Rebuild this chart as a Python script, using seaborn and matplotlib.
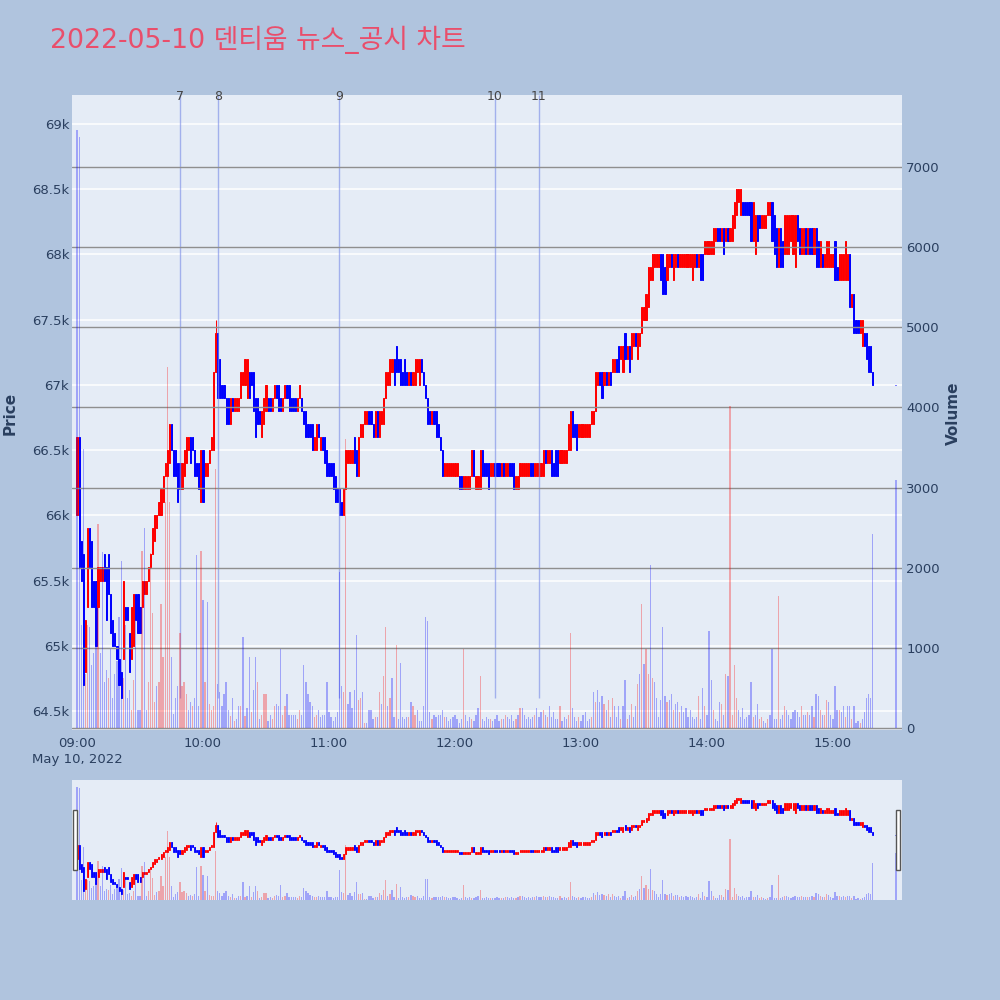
import numpy as np
import pandas as pd
import matplotlib
matplotlib.use("Agg")
import matplotlib.pyplot as plt
import matplotlib.dates as mdates
from matplotlib.patches import Rectangle
import seaborn as sns

# 1분봉 시가 / 종가 (단위: 100원), 09:00 ~ 15:19 구간별
open_a = [660,666,658,657,648,653,659,658,655,655,653,655,655,657,656,657,654,652,651,650,
          649,648,649,653,653,651,649,650,654,654,653,653,654,654,655,656,657,658,659,660,
          660,661,663,663,664,667,665,665,664,664,662,663,664,665,666,666,665,664,664,661,
          665,663]
close_a = [666,656,655,647,652,659,656,653,653,650,656,656,656,655,652,654,651,650,650,649,
           647,646,655,652,652,648,653,654,652,651,651,655,655,655,656,657,659,660,660,661,
           662,663,664,665,667,665,663,663,661,662,664,665,666,666,664,665,663,663,662,665,
           661,664]
open_b = [663,664,665,665,671,674,672,670,670,669,669,667,669,668,668,668,669,670,670,669,
          671,671,671,669,669,668,666,667,668,669,669,668,669,670,670,669,668,669,670,670,
          669,669,669,668,669,669,668,668,667,667,667,665,665,667,665,666,666,665,664,664,
          664,663,662,662]
close_b = [664,665,666,671,674,669,669,669,669,667,667,669,668,669,669,669,671,671,672,672,
           669,670,668,666,667,667,668,669,670,668,668,669,670,669,668,668,669,670,669,668,
           668,668,668,669,670,668,667,666,666,666,665,666,667,666,666,665,664,663,663,663,
           662,661,661,660]
open_c = [661,660,662,664,664,664,666,665,663,666,666,667,667,668,668,667,666,668,666,667,
          667,669,670,670,671,672,673,672,672,671,672,671,670,671,670,670,671,670,672,671,
          670,669,668,667,668,668,667,666,665,663,663,663,663,663,663,663,663,663,662,662,
          662,662,663,665]
close_c = [660,662,665,665,665,665,664,663,666,667,667,668,668,667,667,666,668,666,668,668,
           669,671,671,672,672,670,671,671,670,670,670,670,671,670,671,672,672,672,671,670,
           669,667,667,668,667,666,666,665,663,664,664,664,664,664,664,664,662,662,663,663,
           663,663,665,663]
open_d = [662,662,662,665,664,664,664,663,663,664,664,664,663,664,663,663,664,664,664,662,
          662,663,663,663,663,663,664,664,663,663,663,663,663,665,664,664,665,664,665,665,
          664,664,664,664,665,665,668,667,667,666,666,666,666,666,666,667,667,668,670,671,
          671,670,671,670]
close_d = [663,663,665,663,663,663,662,664,664,663,663,663,664,663,664,664,663,663,662,663,
           663,664,664,664,664,664,663,663,664,664,664,664,665,664,665,665,663,663,663,663,
           665,665,665,665,667,668,666,666,665,667,667,667,667,667,667,668,668,671,671,670,
           669,671,670,671]
open_e = [671,671,671,672,673,672,671,674,672,673,672,673,674,672,673,674,675,675,676,678,
          678,679,679,679,680,680,679,678,679,680,678,679,680,679,679,679,679,679,679,678,
          679,680,679,680,680,680,680,680,680,680,681,682,682,681,682,681,682,681,681,682,
          683,684,683,684]
close_e = [670,672,672,671,671,673,673,672,673,671,674,674,673,674,674,676,676,677,679,679,
           680,680,680,680,678,677,677,680,680,679,680,680,679,680,680,680,680,680,680,680,
           680,679,680,678,678,681,681,681,681,682,682,681,681,682,680,682,681,682,683,684,
           685,685,685,683]
open_f = [684,684,684,684,681,680,683,683,682,682,682,683,683,684,683,682,679,682,681,680,
          680,680,681,680,679,683,682,680,680,682,680,682,682,680,682,681,679,680,679,679,
          679,679,679,681,679,678,678,678,678,678,680,676,677,675,675,674,673,674,674,673,
          673,671]
close_f = [683,683,683,681,684,683,681,682,683,683,683,684,684,681,680,679,682,679,679,683,
           683,683,683,683,683,681,680,682,682,680,682,680,680,682,679,679,681,679,680,681,
           681,680,680,678,678,680,680,680,681,680,676,677,674,674,674,675,675,673,672,671,
           671,670]
# 15:30 동시호가
open_close_auction = 670
close_close_auction = 670

# 거래량
vol_a = [7460,7370,1290,3480,680,1290,1260,780,930,1090,2540,930,2200,580,730,630,985,370,680,830,
         1390,2080,630,1290,370,470,220,600,1340,220,220,2210,2490,220,580,2180,1440,320,525,580,
         1550,880,2820,4500,2820,880,170,370,525,1190,525,580,420,220,320,270,370,2160,270,2210,
         1600,580]
vol_b = [1570,300,220,270,3230,550,450,270,425,580,220,150,370,90,117,270,270,1140,150,245,
         880,194,475,880,580,117,168,420,420,92,168,117,270,296,270,985,168,270,420,168,
         168,168,168,117,219,168,780,575,423,321,270,143,168,219,143,168,168,580,194,143,
         92,143,194,1950]
vol_c = [525,449,3610,296,449,245,474,1160,347,372,449,66,66,219,219,117,143,143,449,296,
         653,1265,270,372,630,143,1040,117,805,143,117,143,143,321,270,168,219,92,92,270,
         1390,1340,194,117,168,143,168,168,219,143,143,92,117,143,168,117,66,117,985,168,
         92,143,117,92]
vol_d = [168,245,653,117,92,143,117,117,92,117,168,92,117,117,168,143,117,168,92,117,
         168,245,245,168,117,143,117,143,168,245,143,194,219,168,143,270,143,194,117,117,
         270,92,143,117,168,1190,245,143,92,143,92,168,194,92,117,143,449,321,474,321,
         398,296,219,347]
vol_e = [143,372,270,143,270,117,270,602,117,168,296,143,270,550,680,1550,800,985,679,2030,
         628,577,372,143,347,1265,398,321,347,423,219,296,321,194,270,194,245,143,219,143,
         117,143,398,117,500,270,168,1215,602,219,117,92,321,296,168,679,653,4020,168,780,
         372,219,143,245]
vol_f = [117,143,168,577,143,168,296,117,143,92,66,117,168,985,117,117,1650,117,168,270,
         219,168,117,194,219,194,143,270,168,168,194,168,270,143,425,398,219,168,168,347,
         321,168,117,525,219,219,194,270,143,270,270,117,270,66,92,66,117,194,372,423,
         372,2415]
vol_close_auction = 3100

high_wicks = {66: 675}

# 뉴스/공시 시점
news_times = ["09:49", "10:07", "11:05", "12:19", "12:40"]
news_labels = ["7", "8", "9", "10", "11"]

price_ticks = [64500, 65000, 65500, 66000, 66500, 67000, 67500, 68000, 68500, 69000]
volume_ticks = [0, 1000, 2000, 3000, 4000, 5000, 6000, 7000]

# ---- 데이터 프레임 ----
opens = open_a + open_b + open_c + open_d + open_e + open_f + [open_close_auction]
closes = close_a + close_b + close_c + close_d + close_e + close_f + [close_close_auction]
volumes = vol_a + vol_b + vol_c + vol_d + vol_e + vol_f + [vol_close_auction]
times = pd.date_range("2022-05-10 09:00", periods=380, freq="min").append(
    pd.DatetimeIndex(["2022-05-10 15:30"]))

df = pd.DataFrame({"time": times, "open": np.array(opens) * 100,
                   "close": np.array(closes) * 100, "volume": volumes})
df["high"] = df[["open", "close"]].max(axis=1)
df["low"] = df[["open", "close"]].min(axis=1)
for k, v in high_wicks.items():
    df.loc[k, "high"] = v * 100
df["x"] = mdates.date2num(df["time"])
df["up"] = df["close"] > df["open"]
df["vol_up"] = df["close"].diff().fillna(-1) > 0

RED, BLUE = "#ff0000", "#0000ff"
BG, PAPER = "#e5ecf6", "#b0c4de"
TXT = "#2a3f5f"

sns.set_theme(style="white")
plt.rcParams["font.family"] = ["DejaVu Sans", "Noto Sans CJK KR"]

fig = plt.figure(figsize=(10, 10), dpi=100, facecolor=PAPER)
ax = fig.add_axes([0.072, 0.270, 0.830, 0.635])
axs = fig.add_axes([0.072, 0.100, 0.830, 0.120])

day0 = mdates.date2num(pd.Timestamp("2022-05-10 09:00"))
minute = 1 / 1440
xlim = (day0 - 2.4 * minute, day0 + 392.9 * minute)
ylim_p = (64354, 69222)
ylim_v = (-25, 7900)


def draw(a, lw, body_w, vol_w):
    a.set_facecolor(BG)
    av = a.twinx()
    av.patch.set_visible(False)
    cols = np.where(df["up"], RED, BLUE)
    a.vlines(df["x"], df["low"], df["high"], colors=cols, lw=lw, zorder=3)
    a.bar(df["x"], (df["close"] - df["open"]).abs(),
          bottom=df[["open", "close"]].min(axis=1), width=body_w * minute,
          color=cols, edgecolor=cols, linewidth=lw, zorder=3)
    vcols = np.where(df["vol_up"], RED, BLUE)
    av.bar(df["x"], df["volume"], width=vol_w * minute, color=vcols, alpha=0.3,
           linewidth=0, zorder=2)
    a.set_xlim(*xlim)
    av.set_xlim(*xlim)
    a.set_ylim(*ylim_p)
    av.set_ylim(*ylim_v)
    for s in list(a.spines.values()) + list(av.spines.values()):
        s.set_visible(False)
    return av


axv = draw(ax, 0.7, 0.55, 0.6)

# 격자
ax.set_axisbelow(True)
ax.set_yticks(price_ticks)
ax.set_yticklabels([f"{p / 1000:g}k" for p in price_ticks])
ax.grid(axis="y", color="white", lw=1.1)
ax.grid(axis="x", visible=False)
axv.set_yticks(volume_ticks)
axv.set_yticklabels([str(v) for v in volume_ticks])
axv.grid(axis="y", color="#8f8f8f", lw=1.0)
axv.grid(axis="x", visible=False)

hours = pd.date_range("2022-05-10 09:00", "2022-05-10 15:00", freq="h")
ax.set_xticks(mdates.date2num(hours))
ax.set_xticklabels([h.strftime("%H:%M") + ("\nMay 10, 2022" if i == 0 else "")
                    for i, h in enumerate(hours)], linespacing=1.3)
ax.tick_params(axis="both", length=0, labelsize=9.5, labelcolor=TXT)
ax.tick_params(axis="y", pad=2)
ax.tick_params(axis="x", pad=5)
axv.tick_params(axis="y", length=0, labelsize=9.5, labelcolor=TXT, pad=3)

# 뉴스 라인
for t, lab in zip(news_times, news_labels):
    xt = mdates.date2num(pd.Timestamp(f"2022-05-10 {t}"))
    ax.vlines(xt, 64600, ylim_p[1], colors="#7f90e8", lw=1.0, alpha=0.65, zorder=4)
    ax.text(xt, ylim_p[1] - 10, lab, ha="center", va="center", fontsize=9,
            color="#444444", zorder=5)

fig.text(0.010, 0.587, "Price", rotation=90, ha="center", va="center",
         fontsize=11, fontweight="bold", color=TXT)
fig.text(0.953, 0.587, "Volume", rotation=90, ha="center", va="center",
         fontsize=11, fontweight="bold", color=TXT)

fig.text(0.050, 0.960, "2022-05-10 덴티움 뉴스_공시 차트", ha="left", va="center",
         fontsize=19.3, color="#e94e6b")

# 레인지 슬라이더
axsv = draw(axs, 0.6, 0.5, 0.6)
for a in (axs, axsv):
    a.set_xticks([])
    a.set_yticks([])
    a.grid(False)
for xh in (0.0725, 0.8955):
    fig.add_artist(Rectangle((xh, 0.130), 0.0045, 0.060, transform=fig.transFigure,
                             facecolor="white", edgecolor="#555555", lw=1, zorder=10))

fig.savefig("out.png", dpi=100, facecolor=PAPER)
